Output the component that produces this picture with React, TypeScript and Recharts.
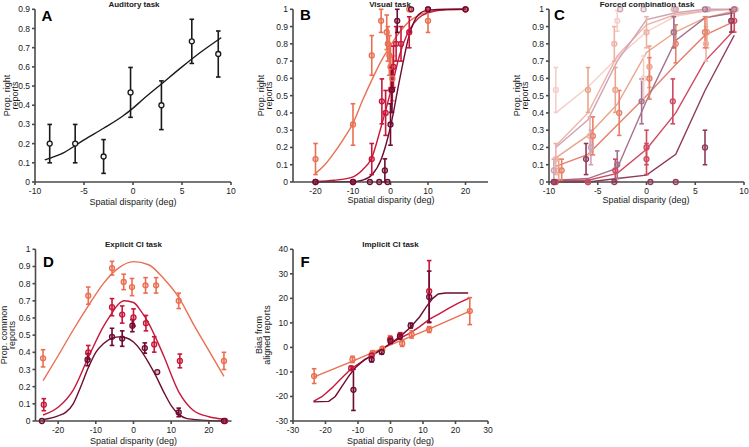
import React from 'react';
import { ComposedChart, Line, Scatter, ErrorBar, XAxis, YAxis } from 'recharts';

type Row = number[];

interface Series {
    color: string;
    pts: Row[];   // [x, y, err]
    curve: Row[]; // [x, y]
}

const FONT = '"Liberation Sans", Arial, Helvetica, sans-serif';
const INK = '#1a1a1a';
const AXIS = '#4a4a4a';

const DARK = '#6e0b30';
const CRIMSON = '#c8173a';
const SALMON = '#ea6f52';

// ---- A: auditory task
const audPts: Row[] = [[-8.5, 0.2, 0.1], [-5.9, 0.2, 0.1], [-3, 0.133, 0.088], [-0.25, 0.467, 0.13], [2.9, 0.4, 0.127], [6, 0.733, 0.115], [8.7, 0.667, 0.12]];
const audCurve: Row[] = [[-9, 0.115], [-7, 0.155], [-5, 0.22], [-3, 0.28], [-1, 0.345], [0, 0.385], [1, 0.43], [3, 0.515], [5, 0.6], [7, 0.68], [9, 0.752]];

// ---- B: visual task
const visSalmonPts: Row[] = [[-20, 0.133, 0.09], [-10, 0.333, 0.12], [-5, 0.733, 0.115], [-2.5, 0.933, 0.067], [-1, 0.867, 0.1], [-0.7, 0.8, 0.1], [-0.3, 0.733, 0.115], [0, 0.667, 0.12], [0.5, 0.6, 0.13], [5, 1, 0], [10, 0.933, 0.067], [20, 1, 0]];
const visSalmonCurve: Row[] = [[-20, 0.05], [-17.5, 0.1], [-15, 0.17], [-12.5, 0.25], [-10, 0.34], [-7.5, 0.47], [-5, 0.59], [-2.5, 0.7], [0, 0.79], [2.5, 0.87], [5, 0.93], [7.5, 0.965], [10, 0.985], [15, 0.997], [20, 1]];
const visCrimsonPts: Row[] = [[-20, 0, 0], [-10, 0, 0], [-5, 0.133, 0.09], [-2.3, 0.467, 0.13], [-1.3, 0.4, 0.13], [0.2, 0.533, 0.13], [0.8, 0.667, 0.12], [1.5, 0.8, 0.1], [2.8, 0.8, 0.1], [5, 0.867, 0.09], [10, 1, 0], [20, 1, 0]];
const visCrimsonCurve: Row[] = [[-20, 0.003], [-15, 0.01], [-10, 0.03], [-7.5, 0.07], [-5, 0.14], [-2.5, 0.32], [0, 0.52], [2.5, 0.74], [5, 0.88], [7.5, 0.95], [10, 0.98], [15, 0.998], [20, 1]];
const visDarkPts: Row[] = [[-20, 0, 0], [-10, 0, 0], [-5.5, 0, 0], [-3, 0, 0], [-1.5, 0.067, 0.067], [-0.8, 0, 0], [0, 0.333, 0.12], [0.4, 0.533, 0.13], [1.8, 0.933, 0.067], [5.5, 1, 0], [10, 1, 0], [20, 1, 0]];
const visDarkCurve: Row[] = [[-20, 0], [-10, 0.002], [-7.5, 0.01], [-5, 0.04], [-2.5, 0.13], [0, 0.32], [2.5, 0.6], [5, 0.85], [7.5, 0.97], [10, 0.995], [15, 1], [20, 1]];

// ---- C: forced combination task
const fcLightestPts: Row[] = [[-9.3, 0.533, 0.13], [-3, 0.933, 0.06], [-0.3, 0.6, 0.13], [3, 1, 0], [6, 1, 0], [9.2, 1, 0]];
const fcLightestCurve: Row[] = [[-9.3, 0.4], [-6, 0.55], [-3, 0.72], [0, 0.87], [3, 0.96], [6, 0.99], [9, 1]];
const fcPinkPts: Row[] = [[-9.3, 0.133, 0.09], [-5.8, 0.267, 0.11], [-3.3, 0.8, 0.1], [0, 0.867, 0.09], [2.8, 1, 0], [6.1, 0.8, 0.1], [9, 1, 0]];
const fcPinkCurve: Row[] = [[-9.3, 0.21], [-6, 0.4], [-3, 0.73], [0, 0.91], [3, 0.97], [6, 0.99], [9, 1]];
const fcLilacPts: Row[] = [[-9.5, 0.067, 0.065], [-5.7, 0.2, 0.1], [-2.7, 1, 0], [-0.3, 1, 0], [3, 1, 0], [6.3, 1, 0], [9, 1, 0]];
const fcLilacCurve: Row[] = [[-9.3, 0.2], [-6, 0.36], [-3, 0.7], [0, 0.94], [3, 0.98], [6, 1], [9, 1]];
const fcSalmonPts: Row[] = [[-9, 0.067, 0.065], [-6, 0.533, 0.13], [-3.2, 0.533, 0.13], [0.3, 0.667, 0.12], [2.8, 0.867, 0.09], [6.2, 0.867, 0.09], [9, 1, 0]];
const fcSalmonCurve: Row[] = [[-9.3, 0.14], [-6, 0.27], [-3, 0.45], [0, 0.75], [3, 0.87], [6, 0.95], [9, 0.99]];
const fcOrangePts: Row[] = [[-8.7, 0.067, 0.065], [-5.5, 0.267, 0.11], [-2.8, 0.4, 0.13], [0.3, 0.6, 0.12], [3, 0.8, 0.11], [6, 0.867, 0.09], [8.7, 0.933, 0.065]];
const fcOrangeCurve: Row[] = [[-9.3, 0.09], [-6, 0.16], [-3, 0.33], [0, 0.5], [3, 0.68], [6, 0.85], [9, 0.93]];
const fcMauvePts: Row[] = [[-9.5, 0, 0], [-6, 0, 0], [-3, 0.1, 0.08], [-0.5, 0.467, 0.13], [2.8, 0.867, 0.09], [6, 1, 0], [9, 1, 0]];
const fcMauveCurve: Row[] = [[-9.3, 0.01], [-6, 0.02], [-3, 0.08], [0, 0.47], [3, 0.82], [6, 0.95], [9, 0.98]];
const fcCrimsonPts: Row[] = [[-9.3, 0, 0], [-6, 0, 0], [-3.2, 0.067, 0.065], [0, 0.133, 0.09], [0, 0.2, 0.1], [2.7, 0.467, 0.13], [9, 0.933, 0.065]];
const fcCrimsonCurve: Row[] = [[-9.3, 0.01], [-6, 0.01], [-3, 0.05], [0, 0.19], [3, 0.4], [6, 0.7], [9, 0.88]];
const fcDarkPts: Row[] = [[-9.5, 0, 0], [-6.2, 0.133, 0.09], [-3.3, 0, 0], [0.4, 0, 0], [3, 0, 0], [6, 0.2, 0.1], [8.7, 0.933, 0.065]];
const fcDarkCurve: Row[] = [[-9.3, 0], [-6, 0], [-3, 0.02], [0, 0.04], [3, 0.16], [6, 0.53], [9, 0.85]];

// ---- D: explicit causal inference task
const ciSalmonPts: Row[] = [[-24, 0.365, 0.05], [-12, 0.73, 0.05], [-5.7, 0.89, 0.04], [-2.6, 0.81, 0.045], [-0.4, 0.78, 0.05], [3.2, 0.79, 0.045], [6, 0.79, 0.045], [12, 0.7, 0.045], [24, 0.35, 0.05]];
const ciSalmonCurve: Row[] = [[-24, 0.235], [-20, 0.38], [-16, 0.53], [-12, 0.67], [-8, 0.8], [-4, 0.89], [0, 0.928], [4, 0.91], [8, 0.83], [12, 0.72], [16, 0.56], [20, 0.41], [24, 0.26]];
const ciCrimsonPts: Row[] = [[-23.8, 0.095, 0.035], [-12, 0.4, 0.04], [-5.7, 0.663, 0.05], [-3, 0.62, 0.05], [0, 0.603, 0.05], [3.3, 0.57, 0.045], [5.5, 0.446, 0.045], [12.3, 0.35, 0.04], [24.3, 0, 0]];
const ciCrimsonCurve: Row[] = [[-24, 0.035], [-20, 0.08], [-16, 0.18], [-12, 0.37], [-8, 0.55], [-6, 0.62], [-4, 0.68], [-2.5, 0.7], [0, 0.69], [2, 0.64], [4, 0.57], [6, 0.48], [8, 0.38], [12, 0.17], [16, 0.06], [20, 0.025], [24, 0.01]];
const ciDarkPts: Row[] = [[-24.3, 0, 0], [-12.2, 0.357, 0.035], [-5.7, 0.49, 0.05], [-3, 0.48, 0.045], [-0.3, 0.555, 0.035], [3, 0.425, 0.03], [6.3, 0.285, 0], [12, 0.05, 0.025], [24, 0, 0]];
const ciDarkCurve: Row[] = [[-24, 0.008], [-20, 0.03], [-18, 0.05], [-16, 0.1], [-14, 0.2], [-12, 0.31], [-10, 0.4], [-8, 0.45], [-6, 0.48], [-4, 0.49], [-2, 0.485], [0, 0.46], [2, 0.41], [4, 0.34], [6, 0.26], [8, 0.17], [10, 0.09], [12, 0.04], [14, 0.015], [18, 0.005], [24, 0]];

// ---- F: implicit causal inference task
const biasSalmonPts: Row[] = [[-23.5, -11.7, 3], [-11.7, -4.9, 1.3], [-5.5, -2.2, 0.8], [-2.5, -0.5, 0.8], [-0.15, 3.3, 1.5], [3.6, 1.6, 1.2], [6.5, 5.3, 1.5], [11.9, 7.3, 1.2], [24.4, 14.8, 5.5]];
const biasSalmonCurve: Row[] = [[-23.5, -12], [-12, -5.8], [0, 1], [12, 7.6], [24.4, 14.8]];
const biasCrimsonPts: Row[] = [[-12.1, -8.5, 0.8], [-5.8, -3.3, 0.8], [0, 3.3, 1], [3, 5, 1], [11.9, 22.9, 12.5]];
const biasCrimsonCurve: Row[] = [[-23.7, -22], [-21, -20], [-18, -16.5], [-15, -12.5], [-12, -8.6], [-9, -6], [-6, -3.5], [-3, -1], [0, 1.5], [3, 3.8], [6, 5.8], [9, 8.5], [12, 11.5], [15, 13.7], [18, 16], [21, 18.2], [24.4, 20.2]];
const biasDarkPts: Row[] = [[-11.4, -17.3, 8.4], [-5.8, -4.9, 1], [-2.7, -1.9, 0.8], [0, 2.6, 1], [2.9, 4.4, 1], [6.2, 8.9, 1], [11.9, 20.6, 10.5]];
const biasDarkCurve: Row[] = [[-23.7, -22.2], [-19, -22], [-17, -20], [-15, -16], [-13, -12], [-11, -8.5], [-8, -5], [-6, -3.5], [-3, -1], [0, 1.6], [3, 4.5], [6, 8], [9, 12.5], [11, 16.5], [13, 20], [14.7, 21.8], [17, 22.2], [23.9, 22.2]];

// ticks
const propTicks = [0, 0.1, 0.2, 0.3, 0.4, 0.5, 0.6, 0.7, 0.8, 0.9, 1];
const audTicksY = [0, 0.1, 0.2, 0.3, 0.4, 0.5, 0.6, 0.7, 0.8, 0.9];
const tenTicks = [-10, -5, 0, 5, 10];
const twentyTicks = [-20, -10, 0, 10, 20];
const thirtyTicks = [-30, -20, -10, 0, 10, 20, 30];
const biasTicksY = [-30, -20, -10, 0, 10, 20, 30, 40];

const toPts = (rows: Row[]) => rows.map(([x, y, e]) => ({ x, y, e }));
const toCurve = (rows: Row[]) => rows.map(([x, y]) => ({ x, y }));

interface PanelProps {
    box: [number, number, number, number];  // left, top, width, height
    plot: [number, number, number, number]; // left, right, top, bottom inside box
    xDomain: [number, number];
    xTicks: number[];
    yDomain: [number, number];
    yTicks: number[];
    series: Series[];
    curveType: 'monotone' | 'linear';
    markFill?: string;
}

const Panel: React.FC<PanelProps> = ({ box, plot, xDomain, xTicks, yDomain, yTicks, series, curveType, markFill }) => {
    const [left, top, w, h] = box;
    const [l, r, t, b] = plot;
    const axisLine = { stroke: AXIS, strokeWidth: 1.6 };
    const tick = { fill: INK, fontSize: 8.5, fontFamily: FONT };

    return (
        <div style={{ position: 'absolute', left, top }}>
            <ComposedChart width={w} height={h} margin={{ top: t, right: w - r, bottom: 0, left: 0 }}>
                <XAxis
                    dataKey="x"
                    type="number"
                    domain={xDomain}
                    ticks={xTicks}
                    interval={0}
                    height={h - b}
                    axisLine={axisLine}
                    tickLine={axisLine}
                    tickSize={3}
                    tickMargin={3}
                    tick={tick}
                />
                <YAxis
                    dataKey="y"
                    type="number"
                    domain={yDomain}
                    ticks={yTicks}
                    interval={0}
                    width={l}
                    axisLine={axisLine}
                    tickLine={axisLine}
                    tickSize={3}
                    tickMargin={2}
                    tick={tick}
                />
                {series.map((s, i) => (
                    <Line
                        key={`c${i}`}
                        data={toCurve(s.curve)}
                        dataKey="y"
                        type={curveType}
                        stroke={s.color}
                        strokeWidth={1.4}
                        dot={false}
                        activeDot={false}
                        isAnimationActive={false}
                    />
                ))}
                {series.map((s, i) => (
                    <Scatter
                        key={`p${i}`}
                        data={toPts(s.pts)}
                        dataKey="y"
                        isAnimationActive={false}
                        shape={(p: any) => (
                            <circle cx={p.cx} cy={p.cy} r={2.5} stroke={s.color} strokeWidth={1.3}
                                fill={markFill ?? s.color} fillOpacity={markFill ? 1 : 0.3} />
                        )}
                    >
                        <ErrorBar dataKey="e" direction="y" width={2.3} stroke={s.color} strokeWidth={1.6} />
                    </Scatter>
                ))}
            </ComposedChart>
        </div>
    );
};

const YLabel: React.FC<{ x: number; cy: number; lines: string[] }> = ({ x, cy, lines }) => (
    <text transform={`translate(${x},${cy}) rotate(-90)`} textAnchor="middle" fontSize={9} fill={INK}>
        {lines.map((ln, i) => (
            <tspan key={ln} x={0} dy={i === 0 ? 0 : 8}>{ln}</tspan>
        ))}
    </text>
);

const App: React.FC = () => {
    const audSeries: Series[] = [{ color: '#1a1a1a', pts: audPts, curve: audCurve }];
    const visSeries: Series[] = [
        { color: SALMON, pts: visSalmonPts, curve: visSalmonCurve },
        { color: CRIMSON, pts: visCrimsonPts, curve: visCrimsonCurve },
        { color: DARK, pts: visDarkPts, curve: visDarkCurve },
    ];
    const fcSeries: Series[] = [
        { color: '#f4cfc8', pts: fcLightestPts, curve: fcLightestCurve },
        { color: '#efb1a6', pts: fcPinkPts, curve: fcPinkCurve },
        { color: '#cda4b6', pts: fcLilacPts, curve: fcLilacCurve },
        { color: '#eba48c', pts: fcSalmonPts, curve: fcSalmonCurve },
        { color: '#e6806a', pts: fcOrangePts, curve: fcOrangeCurve },
        { color: '#a3728c', pts: fcMauvePts, curve: fcMauveCurve },
        { color: '#cf4a60', pts: fcCrimsonPts, curve: fcCrimsonCurve },
        { color: '#8e3a5c', pts: fcDarkPts, curve: fcDarkCurve },
    ];
    const ciSeries: Series[] = [
        { color: SALMON, pts: ciSalmonPts, curve: ciSalmonCurve },
        { color: CRIMSON, pts: ciCrimsonPts, curve: ciCrimsonCurve },
        { color: DARK, pts: ciDarkPts, curve: ciDarkCurve },
    ];
    const biasSeries: Series[] = [
        { color: SALMON, pts: biasSalmonPts, curve: biasSalmonCurve },
        { color: CRIMSON, pts: biasCrimsonPts, curve: biasCrimsonCurve },
        { color: DARK, pts: biasDarkPts, curve: biasDarkCurve },
    ];

    return (
        <div style={{ position: 'absolute', left: 0, top: 0, width: 749, height: 447, background: '#fff', fontFamily: FONT }}>
            <Panel box={[0, 0, 240, 215]} plot={[35, 231, 9.3, 182]} xDomain={[-10, 10]} xTicks={tenTicks}
                yDomain={[0, 0.9]} yTicks={audTicksY} series={audSeries} curveType="monotone" markFill="#f2f2f2" />
            <Panel box={[250, 0, 245, 215]} plot={[43, 238, 9.3, 182]} xDomain={[-26, 26]} xTicks={twentyTicks}
                yDomain={[0, 1]} yTicks={propTicks} series={visSeries} curveType="monotone" />
            <Panel box={[505, 0, 244, 215]} plot={[44, 239, 9.3, 182]} xDomain={[-10, 10]} xTicks={tenTicks}
                yDomain={[0, 1]} yTicks={propTicks} series={fcSeries} curveType="linear" />
            <Panel box={[0, 235, 240, 212]} plot={[35.5, 231.5, 14.3, 186]} xDomain={[-26, 26]} xTicks={twentyTicks}
                yDomain={[0, 1]} yTicks={propTicks} series={ciSeries} curveType="monotone" />
            <Panel box={[250, 235, 245, 212]} plot={[43, 238, 14.3, 186]} xDomain={[-30, 30]} xTicks={thirtyTicks}
                yDomain={[-30, 40]} yTicks={biasTicksY} series={biasSeries} curveType="linear" />

            <svg width={749} height={447} style={{ position: 'absolute', left: 0, top: 0, pointerEvents: 'none' }}
                fontFamily={FONT}>
                <g fontSize={8} fontWeight="bold" fill={INK} textAnchor="middle">
                    <text x={134} y={6.5}>Auditory task</text>
                    <text x={390} y={6.5}>Visual task</text>
                    <text x={647} y={6.5}>Forced combination task</text>
                    <text x={133.5} y={246.5}>Explicit CI task</text>
                    <text x={390.5} y={246.5}>Implicit CI task</text>
                </g>
                <g fontSize={15} fontWeight="bold" fill="#000">
                    <text x={41.5} y={20.7}>A</text>
                    <text x={300} y={20.3}>B</text>
                    <text x={554} y={20.3}>C</text>
                    <text x={43} y={267}>D</text>
                    <text x={300.5} y={267}>F</text>
                </g>
                <g fontSize={9} fill={INK} textAnchor="middle">
                    <text x={133} y={205}>Spatial disparity (deg)</text>
                    <text x={391} y={203}>Spatial disparity (deg)</text>
                    <text x={646} y={203}>Spatial disparity (deg)</text>
                    <text x={133.5} y={444}>Spatial disparity (deg)</text>
                    <text x={390.5} y={444}>Spatial disparity (deg)</text>
                </g>
                <YLabel x={9.7} cy={95.6} lines={['Prop. right', 'reports']} />
                <YLabel x={263.5} cy={95.6} lines={['Prop. right', 'reports']} />
                <YLabel x={520} cy={95.6} lines={['Prop. right', 'reports']} />
                <YLabel x={7} cy={335} lines={['Prop. common', 'reports']} />
                <YLabel x={262} cy={335} lines={['Bias from', 'aligned reports']} />
            </svg>
        </div>
    );
};

export default App;
